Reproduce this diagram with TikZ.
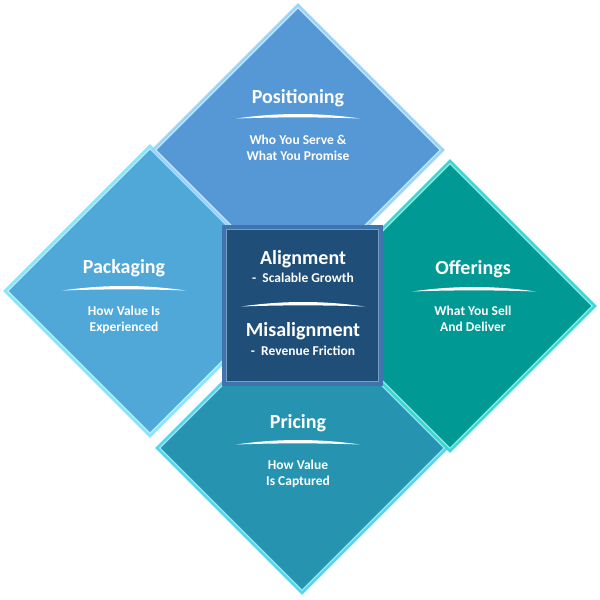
\documentclass[tikz,border=0pt]{standalone}
\usepackage{fontspec}
\setmainfont{Carlito}
\usetikzlibrary{shapes.geometric}
\definecolor{cTop}{HTML}{5598D5}
\definecolor{eTop}{HTML}{9AD4FA}
\definecolor{cLeft}{HTML}{50A8D8}
\definecolor{eLeft}{HTML}{86E4FF}
\definecolor{cRight}{HTML}{009994}
\definecolor{eRight}{HTML}{3ED8D2}
\definecolor{cBot}{HTML}{2694B0}
\definecolor{eBot}{HTML}{55D6EE}
\definecolor{cMid}{HTML}{1F4E79}
\definecolor{eMid}{HTML}{3F74AE}
\tikzset{
  dout/.style={diamond, aspect=1, inner sep=0pt, minimum width=294pt, minimum height=294pt},
  din/.style={diamond, aspect=1, inner sep=0pt, minimum width=285pt, minimum height=285pt, line width=1.2pt},
  ttl/.style={text=white, font=\bfseries\fontsize{20}{24}\selectfont, anchor=base, inner sep=0pt},
  sub/.style={text=white, font=\bfseries\fontsize{13.5}{16}\selectfont, anchor=base, inner sep=0pt},
  swoosh/.pic={\fill[white] (-62,1.5) .. controls (-20,-4.5) and (20,-4.5) .. (62,1.5) .. controls (20,0) and (-20,0) .. cycle;}
}
\begin{document}
\begin{tikzpicture}[x=1pt,y=-1pt]
\useasboundingbox[fill=white] (0,0) rectangle (600,600);
% left piece
\node[dout, fill=eLeft] (leftO) at (150,291) {};
\node[din, fill=cLeft, draw=eLeft!60!white] (left) at (150,291) {};
% top piece
\node[dout, fill=eTop] (topO) at (298,150) {};
\node[din, fill=cTop, draw=eTop!60!white] (top) at (298,150) {};
% bottom piece
\node[dout, fill=eBot] (botO) at (302,448) {};
\node[din, fill=cBot, draw=eBot!60!white] (bot) at (302,448) {};
% right piece
\node[dout, fill=eRight] (rightO) at (450,306) {};
\node[din, fill=cRight, draw=eRight!60!white] (right) at (450,306) {};
% centre square
\node[rectangle, inner sep=0pt, minimum size=161pt, fill=eMid] (midO) at (302.5,305.5) {};
\node[rectangle, inner sep=0pt, minimum size=152pt, fill=cMid, draw=eMid!70!white, line width=0.8pt] (mid) at (302.5,305.5) {};

% texts: top
\node[ttl] (tTop) at (298,103.5) {Positioning};
\pic at (298,117) {swoosh};
\node[sub] (sTop1) at (298,144.5) {Who You Serve \&};
\node[sub] (sTop2) at (298,160.5) {What You Promise};
% left
\node[ttl] (tLeft) at (124,273.5) {Packaging};
\pic at (124,289) {swoosh};
\node[sub] (sLeft1) at (124,315.5) {How Value Is};
\node[sub] (sLeft2) at (124,331.5) {Experienced};
% right
\node[ttl] (tRight) at (473,274.5) {Offerings};
\pic at (474,290) {swoosh};
\node[sub] (sRight1) at (473,315.5) {What You Sell};
\node[sub] (sRight2) at (473,331.5) {And Deliver};
% bottom
\node[ttl] (tBot) at (298,428.5) {Pricing};
\pic at (298,443) {swoosh};
\node[sub] (sBot1) at (298,469.5) {How Value};
\node[sub] (sBot2) at (298,485.5) {Is Captured};
% centre
\node[ttl] (tMid1) at (303,264.5) {Alignment};
\node[sub] (sMid1) at (303,282.5) {-~~Scalable Growth};
\pic at (303,305) {swoosh};
\node[ttl] (tMid2) at (303,336.5) {Misalignment};
\node[sub] (sMid2) at (303,355.5) {-~~Revenue Friction};
\end{tikzpicture}
\end{document}
